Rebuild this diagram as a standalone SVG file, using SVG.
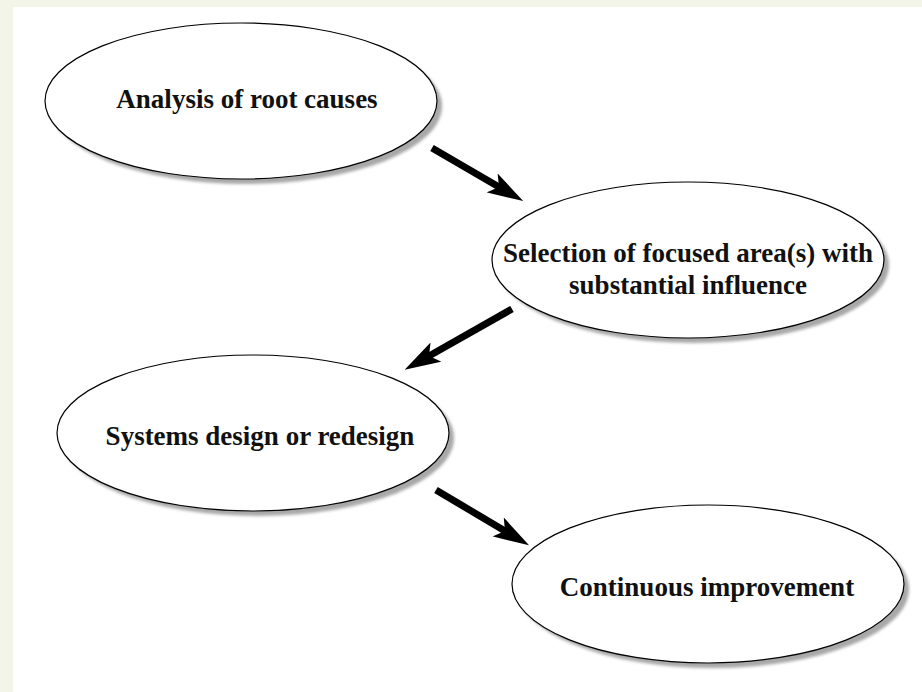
<svg xmlns="http://www.w3.org/2000/svg" width="922" height="692" viewBox="0 0 922 692">
<defs>
<style>
.bg{fill:#f2f5e8}
.node ellipse.e{fill:#ffffff;stroke:#000000;stroke-width:1.2}
.node ellipse.sh{fill:#a8a8a8;filter:url(#blur)}
.node text{font-family:"Liberation Serif","Times New Roman",serif;font-weight:bold;font-size:27px;fill:#111111;text-anchor:middle}
.conn line{stroke:#000000;stroke-width:7;marker-end:url(#arrow)}
</style>
<filter id="blur" x="-10%" y="-10%" width="120%" height="120%"><feGaussianBlur stdDeviation="1.5"/></filter>
<marker id="arrow" viewBox="0 0 36 22" refX="8" refY="11" markerWidth="36" markerHeight="22" markerUnits="userSpaceOnUse" orient="auto">
<path d="M36,11 L0,0 L8,11 L0,22 Z" fill="#000000"/>
</marker>
</defs>
<rect x="0" y="0" width="922" height="692" class="bg"/>
<rect x="13" y="7" width="909" height="685" fill="#ffffff"/>
<g id="n1" class="node">
<ellipse class="sh" cx="246" cy="106" rx="196" ry="78"/>
<ellipse class="e" cx="241" cy="101" rx="196" ry="78"/>
<text x="247" y="108">Analysis of root causes</text>
</g>
<g id="n2" class="node">
<ellipse class="sh" cx="693" cy="265" rx="196" ry="78"/>
<ellipse class="e" cx="688" cy="260" rx="196" ry="78"/>
<text x="688" y="262">Selection of focused area(s) with</text>
<text x="688" y="294">substantial influence</text>
</g>
<g id="n3" class="node">
<ellipse class="sh" cx="258" cy="438" rx="196" ry="78"/>
<ellipse class="e" cx="253" cy="433" rx="196" ry="78"/>
<text x="260" y="445">Systems design or redesign</text>
</g>
<g id="n4" class="node">
<ellipse class="sh" cx="713" cy="589" rx="196" ry="79"/>
<ellipse class="e" cx="708" cy="584" rx="196" ry="79"/>
<text x="707" y="596">Continuous improvement</text>
</g>
<g id="connectors" class="conn">
<line x1="432" y1="148" x2="499" y2="187"/>
<line x1="512" y1="309" x2="429" y2="356"/>
<line x1="436" y1="490" x2="505" y2="531"/>
</g>
</svg>
